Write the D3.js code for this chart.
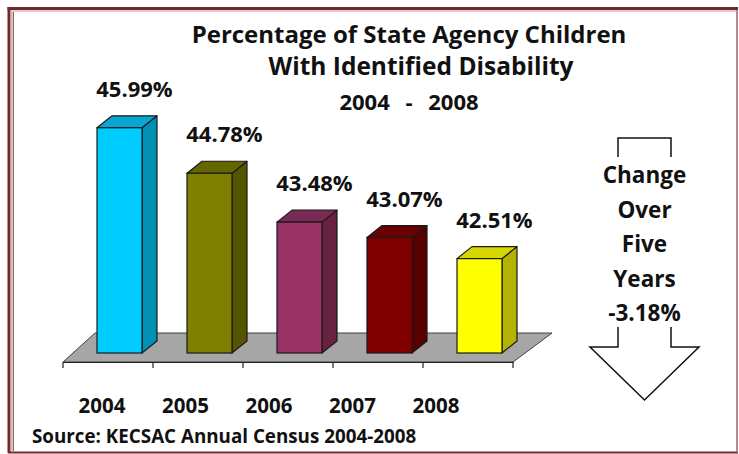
<!DOCTYPE html>
<html><head><meta charset="utf-8">
<script src="https://cdn.jsdelivr.net/npm/d3@7"></script>
<style>html,body{margin:0;padding:0;background:#fff;}svg{display:block;font-family:"Open Sans",Lato,sans-serif;font-weight:700;}</style>
</head><body>
<svg id="c" width="739" height="454"></svg>
<script>
const years = ["2004","2005","2006","2007","2008"];
const values = [45.99, 44.78, 43.48, 43.07, 42.51];
const valueLabels = ["45.99%","44.78%","43.48%","43.07%","42.51%"];
const frontColors = ["#00ccff","#808000","#993366","#800000","#ffff00"];
const sideColors  = ["#0090b4","#555500","#66223f","#560000","#b4b400"];
const topColors   = ["#0aa6d2","#666600","#7a2a52","#6a0000","#d6d600"];
const titleLines = ["Percentage of State Agency Children","With Identified Disability","2004 - 2008"];
const changeLines = ["Change","Over","Five","Years","-3.18%"];
const sourceText = "Source: KECSAC Annual Census 2004-2008";

const svg = d3.select("#c");

// frame
const fr = svg.append("g");
fr.append("line").attr("x1",7.5).attr("x2",738).attr("y1",8.5).attr("y2",8.5).attr("stroke","#6e2a2d").attr("stroke-width",3);
fr.append("line").attr("x1",9).attr("x2",9).attr("y1",7).attr("y2",453).attr("stroke","#6e2a2d").attr("stroke-width",3);
fr.append("line").attr("x1",8).attr("x2",738).attr("y1",452.5).attr("y2",452.5).attr("stroke","#6e2a2d").attr("stroke-width",2);
fr.append("line").attr("x1",737).attr("x2",737).attr("y1",10).attr("y2",452).attr("stroke","#b58a8a").attr("stroke-width",2);
fr.append("line").attr("x1",11).attr("x2",736).attr("y1",11).attr("y2",11).attr("stroke","#d9b8b8").attr("stroke-width",1.5);
fr.append("line").attr("x1",11.5).attr("x2",11.5).attr("y1",11).attr("y2",451).attr("stroke","#d9b8b8").attr("stroke-width",1.5);
fr.append("line").attr("x1",13.3).attr("x2",13.3).attr("y1",12).attr("y2",451).attr("stroke","#7a3a3d").attr("stroke-width",1);

const x = d3.scaleBand().domain(years).range([63,513]).padding(0);
const y = d3.scaleLinear().domain([40,46]).range([353,127.4]);
const floorFront = 362, floorBack = 333, floorDx = 35;
const bw = x.bandwidth()*0.5, ddx = 15, ddy = -12, shift = 11.5;

// floor
svg.append("path")
  .attr("d", d3.line()([[x.range()[0],floorFront],[x.range()[1],floorFront],[x.range()[1]+floorDx+4,floorBack],[x.range()[0]+floorDx-3,floorBack]]) + "Z")
  .attr("fill","#a6a6a6").attr("stroke","#404040").attr("stroke-width",1);
// axis
const ax = svg.append("g").attr("transform",`translate(0,${floorFront})`)
  .call(d3.axisBottom(x).tickSize(0).tickFormat(""));
ax.select(".domain").attr("stroke","#222").attr("stroke-width",1.2);
svg.append("g").selectAll("line").data(d3.range(years.length+1)).join("line")
  .attr("x1",i=>x.range()[0]+i*x.step()).attr("x2",i=>x.range()[0]+i*x.step())
  .attr("y1",floorFront).attr("y2",floorFront+6).attr("stroke","#222").attr("stroke-width",1.2);

// bars
const bars = svg.append("g").selectAll("g").data(values).join("g");
bars.each(function(v,i){
  const g = d3.select(this);
  const x0 = x(years[i]) + x.bandwidth()/2 - bw/2 + shift, x1 = x0+bw;
  const yt = y(v), yb = y(40);
  g.append("path").attr("d",`M${x1},${yb}L${x1+ddx},${yb+ddy}L${x1+ddx},${yt+ddy}L${x1},${yt}Z`)
    .attr("fill",sideColors[i]).attr("stroke","#1a1a1a").attr("stroke-width",1.2).attr("stroke-linejoin","round");
  g.append("path").attr("d",`M${x0},${yt}L${x0+ddx},${yt+ddy}L${x1+ddx},${yt+ddy}L${x1},${yt}Z`)
    .attr("fill",topColors[i]).attr("stroke","#1a1a1a").attr("stroke-width",1.2).attr("stroke-linejoin","round");
  g.append("rect").attr("x",x0).attr("y",yt).attr("width",bw).attr("height",yb-yt)
    .attr("fill",frontColors[i]).attr("stroke","#1a1a1a").attr("stroke-width",1.2);
  g.append("text").attr("x",x0+bw/2+15).attr("y",yt+ddy-19).attr("text-anchor","middle")
    .attr("font-size",22).attr("fill","#111").text(valueLabels[i]);
});

// year labels
const labelX = d3.scalePoint().domain(years).range([102,436]);
svg.append("g").selectAll("text").data(years).join("text")
  .attr("x",d=>labelX(d)).attr("y",413).attr("text-anchor","middle")
  .attr("font-size",20.5).attr("fill","#111").text(d=>d);

// title
svg.append("g").selectAll("text").data(titleLines).join("text")
  .attr("x",(d,i)=>[409,421,409][i]).attr("y",(d,i)=>[43,75,110][i]).attr("text-anchor","middle")
  .attr("font-size",(d,i)=>[24,24.5,22][i]).attr("word-spacing",(d,i)=>i==2?"10px":"0px").attr("fill","#111").text(d=>d);

// source
svg.append("text").attr("x",32).attr("y",443).attr("font-size",18.8).attr("fill","#111").text(sourceText);

// change arrow
const ac = 644.5, sh = 26.5, hw = 54.5;
svg.append("path")
  .attr("d",`M${ac-sh},157V138H${ac+sh}V157`).attr("fill","none").attr("stroke","#111").attr("stroke-width",1.5);
svg.append("path")
  .attr("d",`M${ac-sh},327V347H${ac-hw}L${ac},400L${ac+hw},347H${ac+sh}V327`).attr("fill","none").attr("stroke","#111").attr("stroke-width",1.5).attr("stroke-linejoin","miter");
svg.append("g").selectAll("text").data(changeLines).join("text")
  .attr("x",ac).attr("y",(d,i)=>183+i*34.5).attr("text-anchor","middle")
  .attr("font-size",22.5).attr("fill","#111").text(d=>d);
</script>
</body></html>
